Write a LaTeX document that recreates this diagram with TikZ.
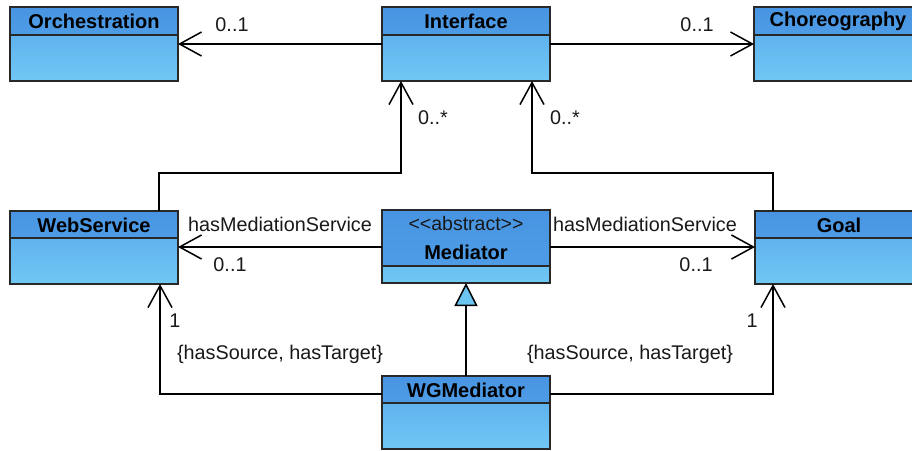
\documentclass[tikz,border=0pt]{standalone}
\usepackage{fontspec}
\setmainfont{Liberation Sans}
\usetikzlibrary{arrows.meta,calc}

\definecolor{boxline}{RGB}{40,40,40}
\definecolor{headblue}{RGB}{72,148,226}
\definecolor{headblue2}{RGB}{78,156,230}
\definecolor{bodytop}{RGB}{86,166,234}
\definecolor{bodybot}{RGB}{112,200,244}
\definecolor{trifill}{RGB}{108,196,240}
\definecolor{labeltext}{RGB}{25,25,25}

\tikzset{
  classbody/.style={rectangle, inner sep=0pt, outer sep=0pt, anchor=north west,
    minimum width=168pt, top color=bodytop, bottom color=bodybot},
  headerfill/.style={top color=headblue, bottom color=headblue2},
  boxedge/.style={draw=boxline, line width=1.6pt},
  titletext/.style={inner sep=0pt, font=\fontsize{20}{22}\selectfont\bfseries, text=black},
  stereo/.style={inner sep=0pt, font=\fontsize{19.5}{22}\selectfont, text=labeltext},
  lbl/.style={inner sep=0pt, font=\fontsize{19.8}{22}\selectfont, text=labeltext},
  assoc/.style={draw=black, line width=1.5pt, -{Straight Barb[length=22pt,width=24pt,line width=1.5pt]}},
  inherit/.style={draw=black, line width=1.5pt, -{Triangle[length=23pt,width=23pt,fill=trifill,line width=1.5pt]}},
}

% class box: name, left, top, bottom, header bottom
\newcommand\umlclass[5]{%
  \node[classbody, minimum height={(#4-#3)*1pt}] (#1) at (#2,#3) {};
  \fill[headerfill] (#1.north west) rectangle (#1.east |- 0,#5);
  \draw[boxedge] (#1.west |- 0,#5) -- (#1.east |- 0,#5);
  \draw[boxedge] (#1.north west) rectangle (#1.south east);
}

\begin{document}
\begin{tikzpicture}[x=1pt,y=-1pt]
  \useasboundingbox (0,0) rectangle (912,450);
  \fill[white] (0,0) rectangle (912,450);
  \clip (0,0) rectangle (912,450);

  % classes
  \umlclass{orch}{10}{7}{81}{35}
  \umlclass{iface}{382}{7}{81}{35}
  \umlclass{choreo}{754}{7}{81}{35}
  \umlclass{ws}{10}{211}{284}{238}
  \umlclass{med}{382}{210}{283}{266}
  \umlclass{goal}{755}{211}{284}{238}
  \umlclass{wg}{382}{376}{449}{403}

  % class names
  \node[titletext] (orchT) at (orch.north |- 0,21) {Orchestration};
  \node[titletext] (ifaceT) at (iface.north |- 0,21) {Interface};
  \node[titletext] (choreoT) at (choreo.north |- 0,21) {Choreography};
  \node[titletext] (wsT) at (ws.north |- 0,225) {WebService};
  \node[stereo] (medS) at (med.north |- 0,224) {<{}<abstract>{}>};
  \node[titletext] (medT) at (med.north |- 0,252) {Mediator};
  \node[titletext] (goalT) at (goal.north |- 0,225) {Goal};
  \node[titletext] (wgT) at (wg.north |- 0,390) {WGMediator};

  % Interface associations
  \draw[assoc] (iface.west) -- (orch.east);
  \node[lbl] (l1) at (232,25) {0..1};
  \draw[assoc] (iface.east) -- (choreo.west);
  \node[lbl] (l2) at (697,25) {0..1};

  \draw[assoc] (ws.north -| 159,0) |- (401,173) -- (401,0 |- iface.south);
  \node[lbl] (l3) at (433,118) {0..*};
  \draw[assoc] (goal.north -| 773,0) |- (532,173) -- (532,0 |- iface.south);
  \node[lbl] (l4) at (565,118) {0..*};

  % hasMediationService
  \draw[assoc] (med.west |- 0,247) -- (ws.east |- 0,247);
  \node[lbl] (l5) at (280,224) {hasMediationService};
  \node[lbl] (l6) at (230,265) {0..1};
  \draw[assoc] (med.east |- 0,247) -- (goal.west |- 0,247);
  \node[lbl] (l7) at (645,224) {hasMediationService};
  \node[lbl] (l8) at (696,265) {0..1};

  % generalization
  \draw[inherit] (wg.north) -- (med.south);

  % source / target
  \draw[assoc] (wg.west |- 0,394) -| (160,0 |- ws.south);
  \node[lbl] (l9) at (175,321) {1};
  \node[lbl] (l10) at (280,354) {\{hasSource, hasTarget\}};
  \draw[assoc] (wg.east |- 0,394) -| (773,0 |- goal.south);
  \node[lbl] (l11) at (752,321) {1};
  \node[lbl] (l12) at (630,354) {\{hasSource, hasTarget\}};
\end{tikzpicture}
\end{document}
